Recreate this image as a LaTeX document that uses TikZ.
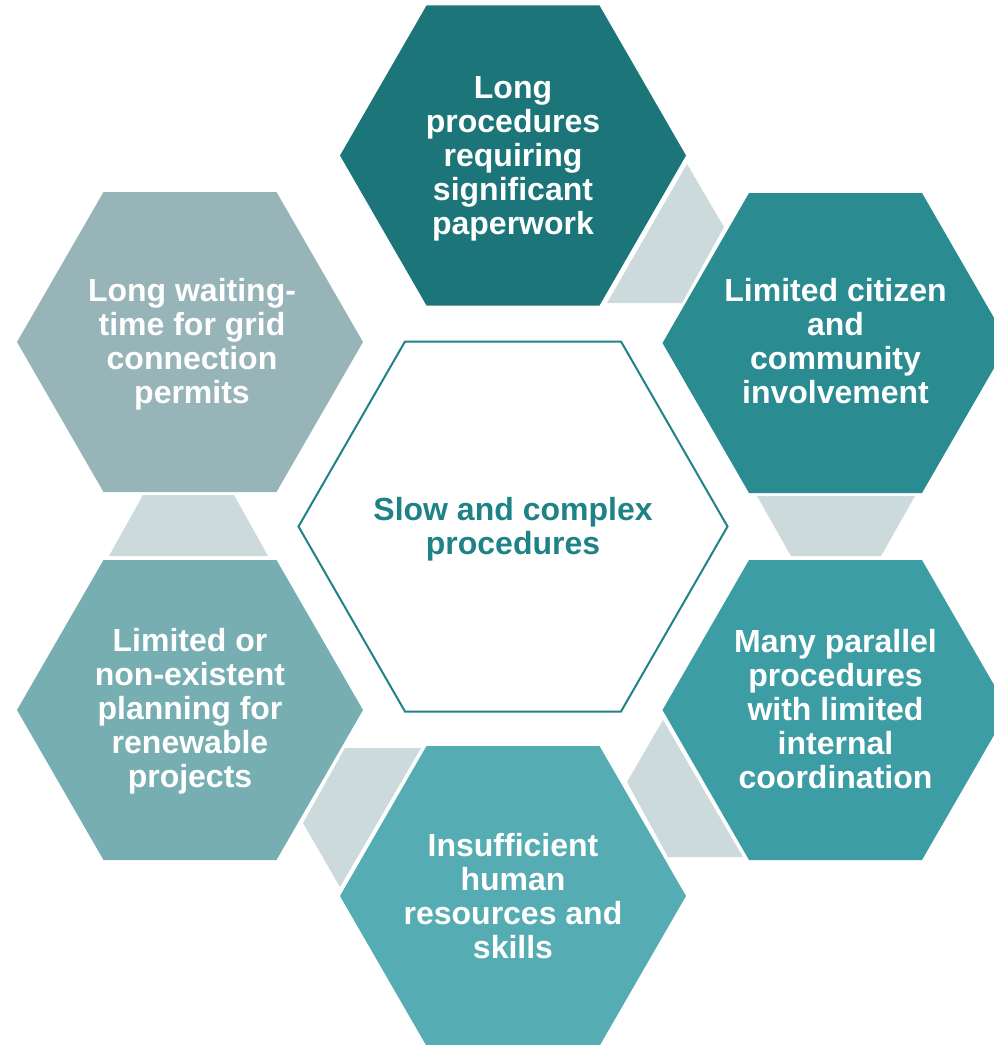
\documentclass[tikz,border=0pt]{standalone}
\usepackage{fontspec}
\setmainfont{Liberation Sans}
\definecolor{hTop}{HTML}{1B7579}
\definecolor{hUR}{HTML}{2A8C91}
\definecolor{hLR}{HTML}{3D9DA4}
\definecolor{hBot}{HTML}{55ACB2}
\definecolor{hLL}{HTML}{77AEB2}
\definecolor{hUL}{HTML}{97B4B8}
\definecolor{conn}{HTML}{CCDADB}
\definecolor{coreTeal}{HTML}{1E8286}
\newcommand{\hexfill}[3]{%
  \fill[#3] (#1-173,#2) -- (#1-86.5,#2-150) -- (#1+86.5,#2-150) -- (#1+173,#2)
    -- (#1+86.5,#2+150) -- (#1-86.5,#2+150) -- cycle;}
\begin{document}
\begin{tikzpicture}[x=0.75pt,y=-0.75pt,
  hextext/.style={text=white,align=center,inner sep=0pt,
    font=\bfseries\fontsize{24}{25.5}\selectfont},
  coretext/.style={text=coreTeal,align=center,inner sep=0pt,
    font=\bfseries\fontsize{24}{25.5}\selectfont},
  connshape/.style={fill=conn}]
\path[use as bounding box,clip] (0,0) rectangle (994,1045);
% outer hexagons
\hexfill{513}{155.5}{hTop}
\hexfill{835.5}{343}{hUR}
\hexfill{835.5}{710}{hLR}
\hexfill{513}{896}{hBot}
\hexfill{190}{710}{hLL}
\hexfill{190}{342}{hUL}
% linking shapes
\fill[connshape] (687,164) -- (724,227) -- (682,303) -- (607,303) -- cycle;
\fill[connshape] (757,496) -- (915,496) -- (881,556) -- (791,556) -- cycle;
\fill[connshape] (663,720) -- (627,782) -- (668,857) -- (743,857) -- cycle;
\fill[connshape] (345,748) -- (421,748) -- (340,887) -- (303,823) -- cycle;
\fill[connshape] (143,495) -- (234,495) -- (268,556) -- (109,556) -- cycle;
% centre hexagon
\draw[coreTeal,line width=1.5pt] (298.5,526.5) -- (405,341.5) -- (621,341.5) -- (727.5,526.5)
  -- (621,711.5) -- (405,711.5) -- cycle;
% texts
\node[hextext] (ttop) at (513,158.5) {Long\\procedures\\requiring\\significant\\paperwork};
\node[hextext] (tur) at (835.5,341.5) {Limited citizen\\and\\community\\involvement};
\node[hextext] (tlr) at (835.5,709) {Many parallel\\procedures\\with limited\\internal\\coordination};
\node[hextext] (tbot) at (513,896) {Insufficient\\human\\resources and\\skills};
\node[hextext] (tll) at (190,711.5) {Limited or\\non-existent\\planning for\\renewable\\projects};
\node[hextext] (tul) at (192,344.5) {Long waiting-\\time for grid\\connection\\permits};
\node[coretext] (tcore) at (513,529) {Slow and complex\\procedures};
\end{tikzpicture}
\end{document}
